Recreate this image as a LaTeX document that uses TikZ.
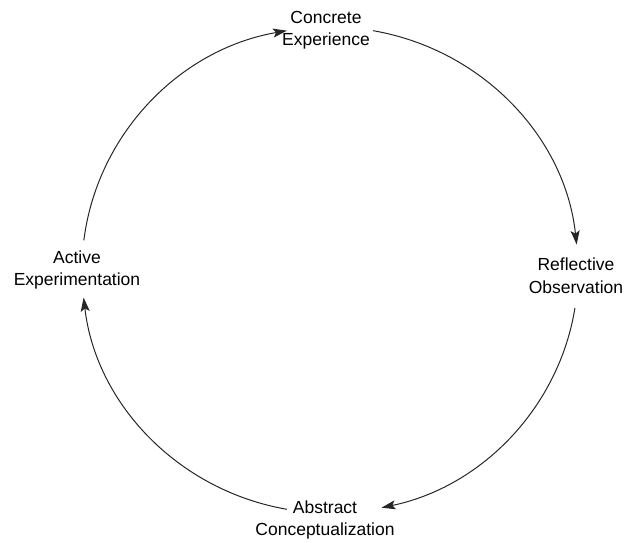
\documentclass[tikz,border=0pt]{standalone}
\usepackage{fontspec}
\setmainfont{Liberation Sans}
\usetikzlibrary{arrows.meta,calc}
\begin{document}
\begin{tikzpicture}[x=1pt,y=1pt,
  lbl/.style={align=center,inner sep=0pt,font=\fontsize{17.5}{22.5}\selectfont},
  cyc/.style={line width=1pt,draw=black!85,-{Stealth[length=14pt,width=9pt,inset=3pt]}}]
\useasboundingbox (0,0) rectangle (625,543);
\coordinate (c) at (330,273);
\node[lbl] (ce) at (326,513) {Concrete\\Experience};
\node[lbl] (ro) at (576,267) {Reflective\\Observation};
\node[lbl] (ac) at (325,23) {Abstract\\Conceptualization};
\node[lbl] (ae) at (77,273) {Active\\Experimentation};
\coordinate (ce-out) at ($(c)+(80:248 and 243)$);
\coordinate (ro-out) at ($(c)+(-9:248 and 243)$);
\coordinate (ac-out) at ($(c)+(-100:248 and 243)$);
\coordinate (ae-out) at ($(c)+(173:248 and 243)$);
\draw[cyc] (ce-out) arc[start angle=80,end angle=6,x radius=248,y radius=243];
\draw[cyc] (ro-out) arc[start angle=-9,end angle=-78,x radius=248,y radius=243];
\draw[cyc] (ac-out) arc[start angle=-100,end angle=-173.5,x radius=248,y radius=243];
\draw[cyc] (ae-out) arc[start angle=173,end angle=100,x radius=248,y radius=243];
\end{tikzpicture}
\end{document}
